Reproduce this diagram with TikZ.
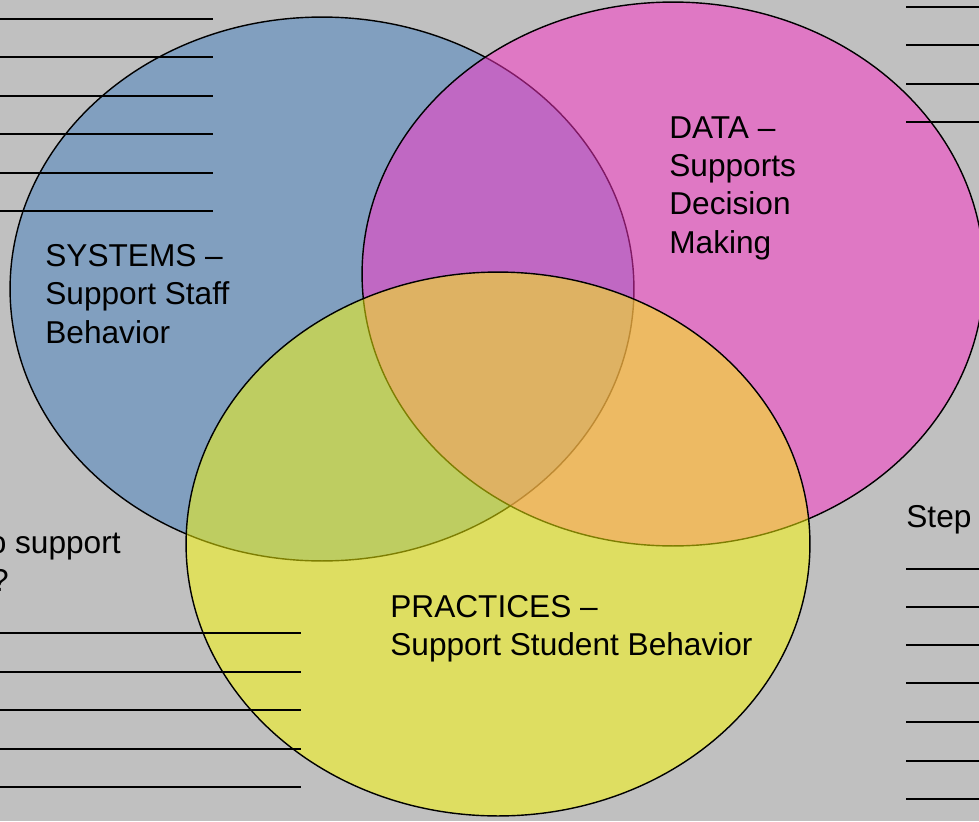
\documentclass[tikz,border=0pt]{standalone}
\usepackage{fontspec}
\setmainfont{Liberation Sans}
\definecolor{bggray}{RGB}{192,192,192}
\definecolor{sysblue}{RGB}{129,159,191}
\definecolor{datapink}{RGB}{255,50,200}
\definecolor{pracyellow}{RGB}{252,252,4}
\begin{document}
\begin{tikzpicture}[x=0.02cm,y=-0.02cm]
  \tikzstyle{vennset}=[draw=black,line width=0.8pt]
  \tikzstyle{venntext}=[inner sep=0pt,align=left,font=\fontsize{18}{21.8}\selectfont]
  \tikzstyle{blank}=[line width=0.75pt]
  \useasboundingbox (0,0) rectangle (979,821);
  \clip (0,0) rectangle (979,821);
  \fill[bggray] (0,0) rectangle (979,821);

  \coordinate (sys) at (322,289);
  \draw[vennset,fill=sysblue] (sys) ellipse [x radius=6.24cm, y radius=5.44cm];

  \coordinate (dat) at (673,274);
  \draw[vennset,fill=datapink,fill opacity=0.5] (dat) ellipse [x radius=6.22cm, y radius=5.44cm];

  \coordinate (prac) at (498,544);
  \draw[vennset,fill=pracyellow,fill opacity=0.5] (prac) ellipse [x radius=6.24cm, y radius=5.44cm];

  \node[venntext,anchor=north west] (systems) at (45,244) {SYSTEMS --\\Support Staff\\Behavior};
  \node[venntext,anchor=north west] (data) at (669,116) {DATA --\\Supports\\Decision\\Making};
  \node[venntext,anchor=north west] (practices) at (390,595) {PRACTICES --\\Support Student Behavior};

  \node[venntext,anchor=base east] (tosupport) at (121,553) {o support};
  \node[venntext,anchor=base east] (question) at (9,591) {?};
  \node[venntext,anchor=base west] (step) at (906,527) {Step};

  \draw[blank] (0,19) -- (213,19);
  \draw[blank] (0,57) -- (213,57);
  \draw[blank] (0,96) -- (213,96);
  \draw[blank] (0,134) -- (213,134);
  \draw[blank] (0,173) -- (213,173);
  \draw[blank] (0,211) -- (213,211);

  \draw[blank] (906,7) -- (990,7);
  \draw[blank] (906,45) -- (990,45);
  \draw[blank] (906,84) -- (990,84);
  \draw[blank] (906,122) -- (990,122);

  \draw[blank] (0,633) -- (301,633);
  \draw[blank] (0,672) -- (301,672);
  \draw[blank] (0,710) -- (301,710);
  \draw[blank] (0,749) -- (301,749);
  \draw[blank] (0,787) -- (301,787);

  \draw[blank] (906,569) -- (990,569);
  \draw[blank] (906,607) -- (990,607);
  \draw[blank] (906,645) -- (990,645);
  \draw[blank] (906,683) -- (990,683);
  \draw[blank] (906,722) -- (990,722);
  \draw[blank] (906,761) -- (990,761);
  \draw[blank] (906,799) -- (990,799);
\end{tikzpicture}
\end{document}
